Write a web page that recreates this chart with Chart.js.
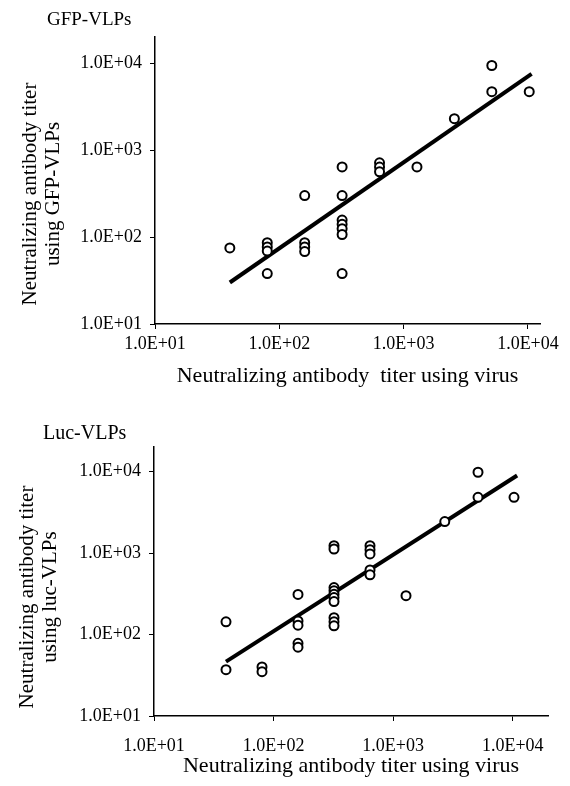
<!DOCTYPE html>
<html>
<head>
<meta charset="utf-8">
<script src="https://cdn.jsdelivr.net/npm/chart.js@4"></script>
<style>
  body { margin: 0; background: #fff; }
  #wrap { position: relative; width: 570px; height: 786px; overflow: hidden; }
  canvas { position: absolute; left: 0; }
  .txt { position: absolute; font-family: "Liberation Serif", serif; color: #000; white-space: nowrap; }
  .ytitle { width: 300px; height: 46px; line-height: 23px; font-size: 21px; text-align: center; transform: rotate(-90deg); }
</style>
</head>
<body>
<div id="wrap">
  <canvas id="gfp-chart" width="570" height="393" style="top:0"></canvas>
  <canvas id="luc-chart" width="570" height="393" style="top:393px"></canvas>
  <div class="txt" style="left:47px; top:8px; font-size:19px">GFP-VLPs</div>
  <div class="txt" style="left:43px; top:421px; font-size:20px">Luc-VLPs</div>
  <div class="txt ytitle" style="left:-109px; top:171px">Neutralizing antibody titer<br>using GFP-VLPs</div>
  <div class="txt ytitle" style="left:-112px; top:574px">Neutralizing antibody titer<br>using luc-VLPs</div>
</div>
<script>
const tickValues = [10, 100, 1000, 10000];
const tickLabels = ["1.0E+01", "1.0E+02", "1.0E+03", "1.0E+04"];
const xTitle = "Neutralizing antibody  titer using virus";
const xTitleLuc = "Neutralizing antibody titer using virus";

// GFP-VLPs panel
const gfpVirus = [40, 80, 80, 80, 80, 160, 160, 160, 160, 320, 320, 320, 320, 320, 320, 320, 640, 640, 640, 1280, 2560, 5120, 5120, 10240];
const gfpVlp = [75, 86, 77, 69, 38, 300, 86, 77, 68, 640, 300, 157, 140, 125, 107, 38, 714, 638, 564, 640, 2300, 9400, 4700, 4700];
const gfpFitX = [40, 10700];
const gfpFitY = [30, 7540];

// Luc-VLPs panel
const lucVirus = [40, 40, 80, 80, 160, 160, 160, 160, 160, 320, 320, 320, 320, 320, 320, 320, 320, 320, 320, 640, 640, 640, 640, 640, 1280, 2700, 5120, 5120, 10240];
const lucVlp = [37, 143, 40, 35, 310, 147, 130, 78, 70, 1230, 1120, 377, 344, 313, 284, 254, 161, 143, 128, 1230, 1100, 975, 620, 540, 300, 2430, 9800, 4830, 4830];
const lucFitX = [40, 10870];
const lucFitY = [46.5, 8930];

const toPoints = (xs, ys) => xs.map((x, i) => ({ x: x, y: ys[i] }));

const makeChart = (id, cfg) => {
  const ctx = document.getElementById(id);
  return new Chart(ctx, {
    type: "scatter",
    data: {
      datasets: [
        {
          data: toPoints(cfg.xs, cfg.ys),
          pointRadius: 4.5,
          pointBorderWidth: 2,
          pointBorderColor: "#000",
          pointBackgroundColor: "#fff",
          order: 1,
        },
        {
          type: "line",
          data: toPoints(cfg.fitX, cfg.fitY),
          borderColor: "#000",
          borderWidth: 4,
          pointRadius: 0,
          fill: false,
          order: 2,
        },
      ],
    },
    options: {
      responsive: false,
      animation: false,
      layout: { padding: cfg.pad },
      plugins: { legend: { display: false }, tooltip: { enabled: false } },
      scales: {
        x: {
          type: "logarithmic",
          min: 10,
          max: cfg.xMax,
          afterFit: (scale) => { scale.height = cfg.xHeight; },
          afterBuildTicks: (scale) => { scale.ticks = tickValues.map((v) => ({ value: v })); },
          grid: { drawOnChartArea: false, color: "#000", tickLength: 5, lineWidth: 1 },
          border: { color: "#000", width: 1.5 },
          ticks: {
            color: "#000",
            padding: cfg.xTickPad,
            maxRotation: 0,
            autoSkip: false,
            font: { family: "Liberation Serif", size: 18 },
            callback: (value) => tickLabels[tickValues.indexOf(value)],
          },
          title: {
            display: true,
            text: cfg.xTitle,
            color: "#000",
            font: { family: "Liberation Serif", size: cfg.xTitleSize },
            padding: { top: 0, bottom: cfg.xTitlePad },
          },
        },
        y: {
          type: "logarithmic",
          min: 10,
          max: 20000,
          afterFit: (scale) => { scale.width = cfg.yWidth; },
          afterBuildTicks: (scale) => { scale.ticks = tickValues.map((v) => ({ value: v })); },
          grid: { drawOnChartArea: false, color: "#000", tickLength: 5, lineWidth: 1 },
          border: { color: "#000", width: 1.5 },
          ticks: {
            color: "#000",
            padding: 8,
            autoSkip: false,
            font: { family: "Liberation Serif", size: 18 },
            callback: (value) => tickLabels[tickValues.indexOf(value)],
          },
        },
      },
    },
  });
};

makeChart("gfp-chart", {
  xs: gfpVirus, ys: gfpVlp, fitX: gfpFitX, fitY: gfpFitY,
  pad: { top: 37, right: 30, left: 0, bottom: 0 },
  xHeight: 69, yWidth: 155, xMax: 12500, xTickPad: 4, xTitlePad: 4, xTitleSize: 22, xTitle: xTitle,
});

makeChart("luc-chart", {
  xs: lucVirus, ys: lucVlp, fitX: lucFitX, fitY: lucFitY,
  pad: { top: 54, right: 22, left: 0, bottom: 0 },
  xHeight: 70, yWidth: 154, xMax: 19700, xTickPad: 14, xTitlePad: 7, xTitleSize: 22, xTitle: xTitleLuc,
});
</script>
</body>
</html>
